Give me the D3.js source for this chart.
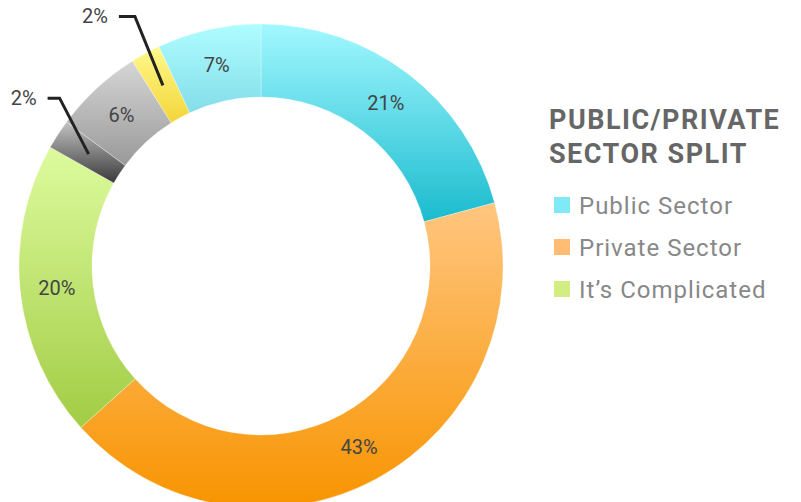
<!DOCTYPE html>
<html><head><meta charset="utf-8">
<script src="https://cdn.jsdelivr.net/npm/d3@7"></script>
<style>html,body{margin:0;padding:0;background:#fff;overflow:hidden}svg{display:block}</style>
</head><body>
<svg id="c" width="801" height="502"></svg>
<script>
// ---- data ----
const sliceNames = ["Public Sector", "Private Sector", "It's Complicated", "Other A", "Other B", "Other C", "Public Other"];
const sliceValues = [21, 43, 20, 2, 6, 2, 7];
const sliceLabels = ["21%", "43%", "20%", "2%", "6%", "2%", "7%"];
const legendLabels = ["Public Sector", "Private Sector", "It\u2019s Complicated"];
const titleLines = ["PUBLIC/PRIVATE", "SECTOR SPLIT"];

// ---- styles ----
const gradTop = ["#a2f8ff", "#ffc680", "#ddfb9e", "#c2c2c2", "#d6d6d6", "#fff98c", "#aefdff"];
const gradBot = ["#1abbce", "#f89400", "#a2cc44", "#3a3a3a", "#999999", "#f3d539", "#84dde8"];
const legendColors = ["#80e9f6", "#ffbc72", "#d2ee82"];
const callout = {3: {dx: -29, dy: -56, h: 12}, 5: {dx: -28, dy: -69, h: 16}};

const svg = d3.select("#c");
const cx = 261, cy = 266, R = 242, r = 169;
const defs = svg.append("defs");
sliceValues.forEach((v, i) => {
  const g = defs.append("linearGradient").attr("id", "g" + i)
    .attr("x1", 0).attr("y1", 0).attr("x2", 0).attr("y2", 1);
  g.append("stop").attr("offset", "0%").attr("stop-color", gradTop[i]);
  g.append("stop").attr("offset", "100%").attr("stop-color", gradBot[i]);
});

const pie = d3.pie().sort(null).value(d => d);
const arcs = pie(sliceValues);
const arc = d3.arc().innerRadius(r).outerRadius(R);
const g = svg.append("g").attr("transform", `translate(${cx},${cy})`);

g.selectAll("path.s").data(arcs).join("path").attr("class", "s")
  .attr("d", arc).attr("fill", (d, i) => `url(#g${i})`)
  .attr("stroke", "rgba(255,255,255,0.5)").attr("stroke-width", 0.6);

const font = "Roboto, 'Noto Sans', sans-serif";
arcs.forEach((d, i) => {
  const [x, y] = arc.centroid(d);
  if (callout[i]) {
    const c = callout[i];
    const ex = x + c.dx, ey = y + c.dy;
    g.append("path")
      .attr("d", `M${x},${y}L${ex},${ey}L${ex - c.h},${ey}`)
      .attr("fill", "none").attr("stroke", "#222").attr("stroke-width", 3);
    g.append("text").attr("x", ex - c.h - 11).attr("y", ey).attr("dy", "0.35em")
      .attr("text-anchor", "end").attr("font-family", font).attr("font-size", 20)
      .attr("fill", "#444").text(sliceLabels[i]);
  } else {
    g.append("text").attr("x", x).attr("y", y).attr("dy", "0.35em")
      .attr("text-anchor", "middle").attr("font-family", font).attr("font-size", 20)
      .attr("fill", "#444").text(sliceLabels[i]);
  }
});

// legend
const lg = svg.append("g").attr("transform", "translate(549,0)");
titleLines.forEach((t, i) => {
  lg.append("text").attr("x", 0).attr("y", 129 + i * 34)
    .attr("font-family", font).attr("font-weight", "bold").attr("font-size", 27)
    .attr("letter-spacing", "1.5px").attr("fill", "#666").text(t);
});
legendLabels.forEach((t, i) => {
  const y = 214 + i * 42;
  lg.append("rect").attr("x", 5).attr("y", y - 17).attr("width", 16).attr("height", 16)
    .attr("fill", legendColors[i]);
  lg.append("text").attr("x", 30).attr("y", y).attr("font-family", font)
    .attr("font-size", 24).attr("letter-spacing", "1px").attr("fill", "#888").text(t);
});
</script>
</body></html>
